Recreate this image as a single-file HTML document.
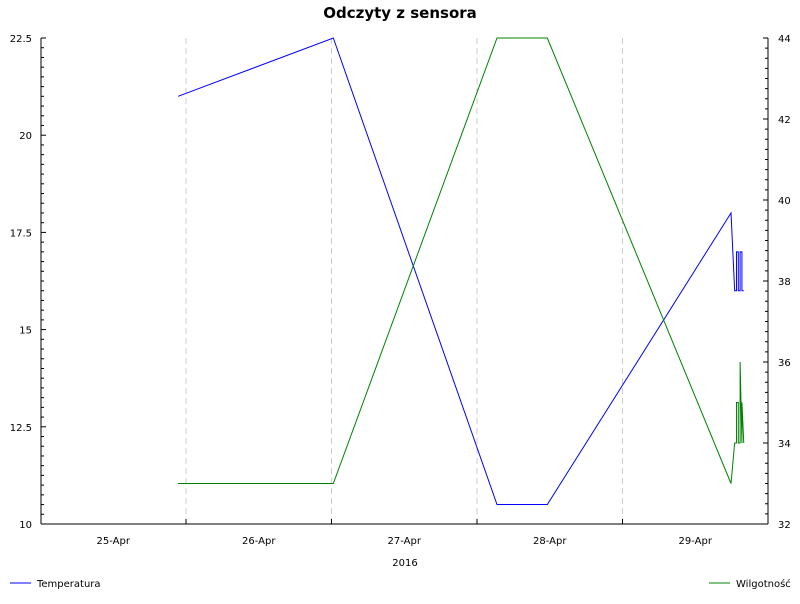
<!DOCTYPE html>
<html><head><meta charset="utf-8"><style>
body{margin:0;background:#fff;font-family:"DejaVu Sans","Liberation Sans",sans-serif}
svg text{font-family:"DejaVu Sans","Liberation Sans",sans-serif}
</style></head><body>
<svg id="chart" width="800" height="600">
<rect width="800" height="600" fill="#fff"/>
<text x="400" y="18" text-anchor="middle" font-size="15" font-weight="bold">Odczyty z sensora</text>
<g id="grid"></g><g id="axes"></g><g id="series"></g>
<text x="405" y="566" text-anchor="middle" font-size="10">2016</text>
<g><line x1="10" y1="583" x2="31" y2="583" stroke="#0000ff"/><text x="37" y="587" font-size="10">Temperatura</text></g>
<g><line x1="709" y1="583" x2="730" y2="583" stroke="#008000"/><text x="736" y="587" font-size="10">Wilgotność</text></g>
</svg>
<script>
// hours since 25-Apr 00:00
const times = [22.7,48.3,75.3,83.6,113.9,114.5,114.8,114.8,115.1,115.1,115.4,115.4,115.7,115.7,116.0];
const temperature = [21,22.5,10.5,10.5,18,16,16,17,17,16,16,17,17,16,16];
const humidity = [33,33,44,44,33,34,34,35,35,34,34,36,34,35,34];
const dayLabels = ["25-Apr","26-Apr","27-Apr","28-Apr","29-Apr"];
const leftTicks = [10,12.5,15,17.5,20,22.5];
const rightTicks = [32,34,36,38,40,42,44];

const X0=41,X1=768,Y0=38,Y1=524;
const xs=h=>40.5+h/24*145.5;
const yl=v=>Y1-(v-10)/12.5*(Y1-Y0);
const yr=v=>Y1-(v-32)/12*(Y1-Y0);
const NS="http://www.w3.org/2000/svg";
function mk(p,t,a){const e=document.createElementNS(NS,t);for(const k in a)e.setAttribute(k,a[k]);p.appendChild(e);return e;}
const grid=document.getElementById('grid'),axes=document.getElementById('axes'),series=document.getElementById('series');
for(let d=1;d<5;d++){const l=mk(grid,'line',{x1:xs(d*24),x2:xs(d*24),y1:Y0,y2:Y1,stroke:'#ccc','stroke-dasharray':'6,4'});

}
mk(axes,'line',{x1:X0,x2:X0,y1:Y0,y2:Y1,stroke:'#000'});
mk(axes,'line',{x1:X1,x2:X1,y1:Y0,y2:Y1,stroke:'#000'});
mk(axes,'line',{x1:X0,x2:X1,y1:Y1,y2:Y1,stroke:'#000'});
for(let v=10;v<=22.5001;v+=0.25){const maj=Math.abs(v/2.5-Math.round(v/2.5))<1e-6;mk(axes,'line',{x1:X0,x2:X0+(maj?5:3),y1:yl(v),y2:yl(v),stroke:'#000'});}
for(let v=32;v<=44.001;v+=0.25){const maj=Math.abs(v/2-Math.round(v/2))<1e-6;mk(axes,'line',{x1:X1,x2:X1-(maj?5:3),y1:yr(v),y2:yr(v),stroke:'#000'});}
leftTicks.forEach(v=>{const t=mk(axes,'text',{x:32,y:yl(v)+4,'text-anchor':'end','font-size':10});t.textContent=v;

});
rightTicks.forEach(v=>{const t=mk(axes,'text',{x:778,y:yr(v)+4,'font-size':10});t.textContent=v;

});
dayLabels.forEach((s,i)=>{const t=mk(axes,'text',{x:xs(i*24+12),y:544,'text-anchor':'middle','font-size':10});t.textContent=s;


mk(axes,'line',{x1:xs((i+1)*24),x2:xs((i+1)*24),y1:Y1,y2:Y1-5,stroke:'#000'});});
const pt=times.map((h,i)=>xs(h)+','+yl(temperature[i])).join(' ');
const p1=mk(series,'polyline',{points:pt,fill:'none',stroke:'#0000ff'});


const ph=times.map((h,i)=>xs(h)+','+yr(humidity[i])).join(' ');
const p2=mk(series,'polyline',{points:ph,fill:'none',stroke:'#008000'});


</script>
</body></html>
